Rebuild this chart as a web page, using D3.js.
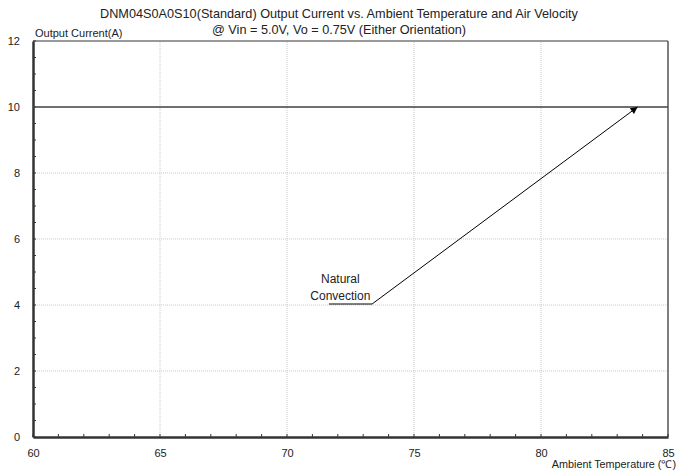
<!DOCTYPE html>
<html>
<head>
<meta charset="utf-8">
<script src="https://cdn.jsdelivr.net/npm/d3@7"></script>
<style>
  body { margin: 0; background: #fff; }
  text { font-family: "Liberation Sans", Arial, sans-serif; fill: #222; }
</style>
</head>
<body>
<div class="canva"></div>
<script>
// data
const tempValues = [60, 85];
const currentValues = [10, 10];
const xTicks = [60, 65, 70, 75, 80, 85];
const yTicks = [0, 2, 4, 6, 8, 10, 12];
const labelLines = ['Natural', 'Convection'];
const labelAt = [72.1, 4.03];
const arrowFrom = [73.35, 4.03];
const arrowTo = [83.8, 10];
const underlineFrom = [71.65, 4.03];

const width = 678, height = 471;
const margin = {top: 41, right: 10, bottom: 34, left: 33};

const svg = d3.select('.canva').append('svg')
    .attr('width', width)
    .attr('height', height);

const x = d3.scaleLinear().domain([60, 85]).range([margin.left, width - margin.right]);
const y = d3.scaleLinear().domain([0, 12]).range([height - margin.bottom, margin.top]);

// grid
svg.append('g').selectAll('line.gx')
    .data(xTicks.slice(1, -1))
    .enter().append('line')
    .attr('x1', d => x(d)).attr('x2', d => x(d))
    .attr('y1', y(0)).attr('y2', y(12))
    .attr('stroke', '#c8c8c8').attr('stroke-dasharray', '1,1');
svg.append('g').selectAll('line.gy')
    .data(yTicks.slice(1, -1))
    .enter().append('line')
    .attr('x1', x(60)).attr('x2', x(85))
    .attr('y1', d => y(d)).attr('y2', d => y(d))
    .attr('stroke', '#c8c8c8').attr('stroke-dasharray', '1,1');

// top / right frame
svg.append('line').attr('x1', x(60)).attr('x2', x(85)).attr('y1', y(12)).attr('y2', y(12))
    .attr('stroke', '#777').attr('stroke-width', 1.5);
svg.append('line').attr('x1', x(85)).attr('x2', x(85)).attr('y1', y(12)).attr('y2', y(0))
    .attr('stroke', '#555').attr('stroke-width', 1.5);

// minor ticks
svg.append('g').selectAll('line')
    .data(d3.range(0, 12.01, 0.5))
    .enter().append('line')
    .attr('x1', x(60)).attr('x2', x(60) + 3)
    .attr('y1', d => y(d)).attr('y2', d => y(d))
    .attr('stroke', '#333');
svg.append('g').selectAll('line')
    .data(d3.range(60, 85.01, 1))
    .enter().append('line')
    .attr('x1', d => x(d)).attr('x2', d => x(d))
    .attr('y1', y(0)).attr('y2', y(0) - 3)
    .attr('stroke', '#333');

// axes
const xAxis = svg.append('g')
    .attr('transform', `translate(0, ${y(0)})`)
    .call(d3.axisBottom(x).tickValues(xTicks).tickSize(0).tickPadding(12));
xAxis.select('.domain').attr('stroke', '#333').attr('stroke-width', 2.5);
xAxis.selectAll('text').attr('font-size', 11).attr('fill', '#222');

const yAxis = svg.append('g')
    .attr('transform', `translate(${x(60)}, 0)`)
    .call(d3.axisLeft(y).tickValues(yTicks).tickSize(0).tickPadding(13));
yAxis.select('.domain').attr('stroke', '#333').attr('stroke-width', 2.5);
yAxis.selectAll('text').attr('font-size', 11).attr('fill', '#222');

// series
const line = d3.line().x(d => x(d[0])).y(d => y(d[1]));
svg.append('path')
    .datum(tempValues.map((t, i) => [t, currentValues[i]]))
    .attr('d', line)
    .attr('fill', 'none')
    .attr('stroke', '#444')
    .attr('stroke-width', 1.5);

// annotation
svg.append('defs').append('marker')
    .attr('id', 'arrow')
    .attr('viewBox', '0 0 10 10')
    .attr('refX', 10).attr('refY', 5)
    .attr('markerWidth', 9).attr('markerHeight', 7)
    .attr('orient', 'auto')
    .append('path').attr('d', 'M0,0L10,5L0,10Z').attr('fill', '#000');

svg.append('path')
    .datum([underlineFrom, arrowFrom, arrowTo])
    .attr('d', line)
    .attr('fill', 'none')
    .attr('stroke', '#000')
    .attr('stroke-width', 1)
    .attr('marker-end', 'url(#arrow)');

svg.append('g').selectAll('text')
    .data(labelLines)
    .enter().append('text')
    .attr('x', x(labelAt[0]))
    .attr('y', (d, i) => y(labelAt[1]) - 21 + i * 17)
    .attr('text-anchor', 'middle')
    .attr('font-size', 12)
    .text(d => d);

// titles
svg.append('text').attr('x', 339).attr('y', 18).attr('text-anchor', 'middle').attr('font-size', 12.7)
    .text('DNM04S0A0S10(Standard) Output Current vs. Ambient Temperature and Air Velocity');
svg.append('text').attr('x', 339).attr('y', 34).attr('text-anchor', 'middle').attr('font-size', 12.7)
    .text('@ Vin = 5.0V, Vo = 0.75V (Either Orientation)');
svg.append('text').attr('x', 35).attr('y', 37).attr('font-size', 11)
    .text('Output Current(A)');
svg.append('text').attr('x', 676).attr('y', 468).attr('text-anchor', 'end').attr('font-size', 10.8)
    .text('Ambient Temperature (℃)');
</script>
</body>
</html>
